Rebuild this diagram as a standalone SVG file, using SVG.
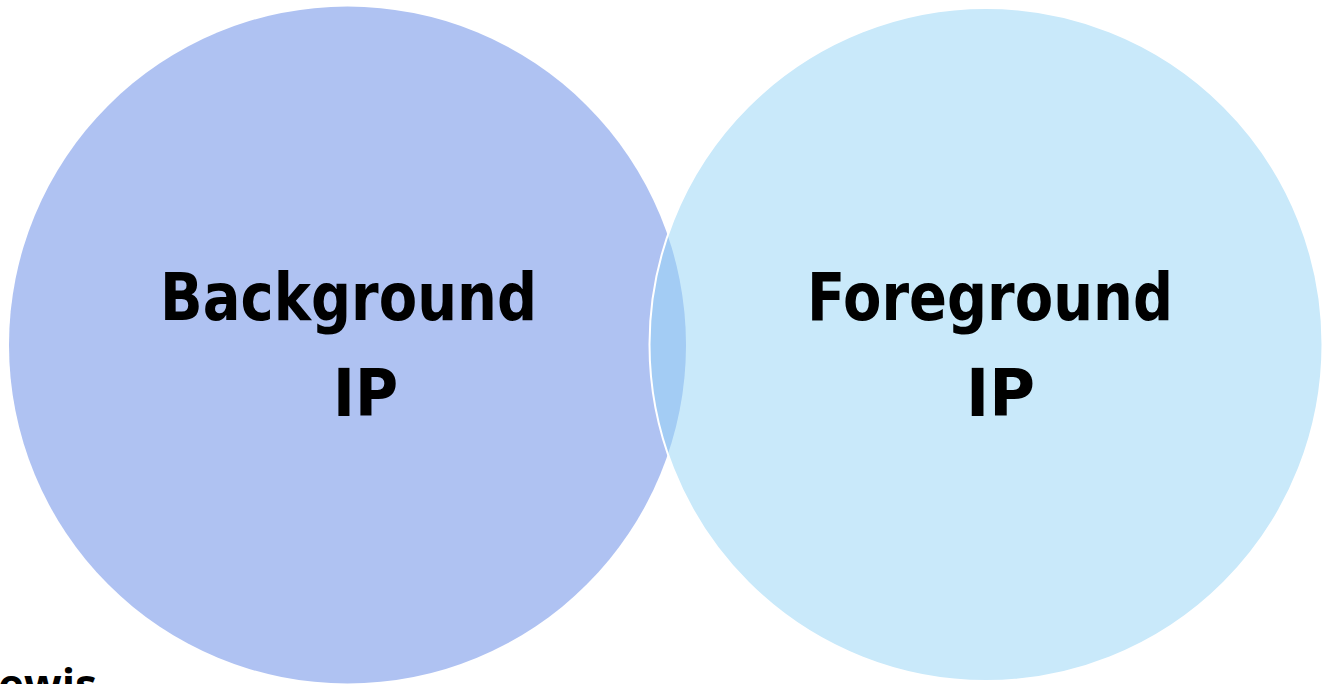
<svg xmlns="http://www.w3.org/2000/svg" width="1322" height="684" viewBox="0 0 1322 684">
<style>
.lbl{font-family:"DejaVu Sans","Verdana",sans-serif;font-weight:bold;font-size:65px;fill:#000;}
.foot{font-family:"Open Sans","Liberation Sans",sans-serif;font-weight:bold;font-size:44px;fill:#000;}
</style>
<rect width="1322" height="684" fill="#ffffff"/>
<g id="background-ip">
<circle cx="347.5" cy="345" r="338.5" fill="#afc2f2"/>
<text class="lbl" x="160" y="320" textLength="377" lengthAdjust="spacingAndGlyphs">Background</text>
</g>
<g id="foreground-ip">
<circle cx="986" cy="344.5" r="336.5" fill="#98d4f5" fill-opacity="0.52" stroke="#ffffff" stroke-width="2"/>
<text class="lbl" x="807" y="320" textLength="366" lengthAdjust="spacingAndGlyphs">Foreground</text>
</g>
<g id="labels-ip">
<text class="lbl" x="333" y="416" textLength="65" lengthAdjust="spacingAndGlyphs">IP</text>
<text class="lbl" x="966" y="416" textLength="69" lengthAdjust="spacingAndGlyphs">IP</text>
</g>
<g id="connectors"></g>
<text class="foot" x="-2" y="701">ewis</text>
</svg>
